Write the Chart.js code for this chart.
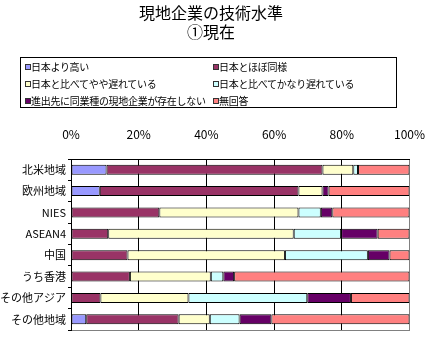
<!DOCTYPE html>
<html>
<head>
<meta charset="utf-8">
<script src="https://cdn.jsdelivr.net/npm/chart.js@4/dist/chart.umd.min.js"></script>
<style>
html,body{margin:0;padding:0;background:#fff;}
#wrap{position:relative;width:442px;height:345px;overflow:hidden;font-family:"Noto Sans CJK JP","Noto Sans",sans-serif;color:#000;}
#title{position:absolute;left:0;width:422px;top:3px;text-align:center;font-size:16px;line-height:19px;}
#legend{position:absolute;left:20px;top:57px;width:375px;height:49px;border:1px solid #000;}
.li{position:absolute;font-size:10px;letter-spacing:-0.3px;line-height:12px;white-space:nowrap;}
.sw{position:absolute;width:4px;height:4px;border:1px solid #333;}
canvas{position:absolute;left:0;top:0;}
</style>
</head>
<body>
<div id="wrap">
<canvas id="c" width="442" height="345"></canvas>
<div id="title">現地企業の技術水準<br>①現在</div>
<div id="legend"></div>
</div>
<script>
const categories = ['北米地域','欧州地域','NIES','ASEAN4','中国','うち香港','その他アジア','その他地域'];
const seriesNames = ['日本より高い','日本とほぼ同様','日本と比べてやや遅れている','日本と比べてかなり遅れている','進出先に同業種の現地企業が存在しない','無回答'];
const higher         = [10.5, 8.5, 0, 0, 0, 0, 0, 4.5];
const same           = [63.8, 58.7, 26.1, 11.0, 16.7, 17.4, 8.7, 27.3];
const slightlyBehind = [9.1, 7.1, 41.1, 54.8, 46.5, 23.9, 26.0, 9.2];
const muchBehind     = [1.4, 0, 6.6, 14.0, 24.5, 3.7, 35.1, 8.8];
const noLocalFirm    = [0, 1.8, 3.4, 10.8, 6.4, 3.2, 12.9, 9.4];
const noAnswer       = [15.2, 23.9, 22.8, 9.4, 5.9, 51.8, 17.3, 40.8];
const xTicks = [0, 20, 40, 60, 80, 100];
const colors = ['#9999FF','#993366','#FFFFCC','#CCFFFF','#660066','#FF8080'];

const seriesData = [higher, same, slightlyBehind, muchBehind, noLocalFirm, noAnswer];
const datasets = seriesData.map((d, i) => ({
  label: seriesNames[i],
  data: d.map(v => v === 0 ? null : v),
  backgroundColor: colors[i],
  borderColor: '#000',
  borderWidth: 1,
  borderSkipped: false,
  barPercentage: 0.47,
  categoryPercentage: 1,
  xAxisID: 'x'
}));

// HTML legend (two columns, row-wise)
const lg = document.getElementById('legend');
const rowY = [3, 20, 37];
const colX = [4, 192];
seriesNames.forEach((n, i) => {
  const r = Math.floor(i / 2), c = i % 2;
  const sw = document.createElement('div');
  sw.className = 'sw';
  sw.style.left = colX[c] + 'px';
  sw.style.top = (rowY[r] + 3) + 'px';
  sw.style.background = colors[i];
  lg.appendChild(sw);
  const t = document.createElement('div');
  t.className = 'li';
  t.style.left = (colX[c] + 6) + 'px';
  t.style.top = rowY[r] + 'px';
  t.textContent = n;
  lg.appendChild(t);
});

const FONT = '"Noto Sans CJK JP","Noto Sans",sans-serif';
new Chart(document.getElementById('c'), {
  type: 'bar',
  data: { labels: categories, datasets },
  options: {
    indexAxis: 'y',
    responsive: false,
    animation: false,
    layout: { padding: { left: 0, right: 20, top: 119, bottom: 15 } },
    plugins: { legend: { display: false }, title: { display: false }, tooltip: { enabled: false } },
    scales: {
      x: {
        position: 'top',
        stacked: true,
        min: 0, max: 100,
        afterBuildTicks: s => { s.ticks = xTicks.map(v => ({ value: v })); },
        afterFit: s => { s.height = 40; },
        ticks: { callback: v => v + '%', font: { family: FONT, size: 12 }, color: '#000', padding: 17, maxRotation: 0 },
        grid: { color: ctx => (ctx.tick && ctx.tick.value === 100) ? '#808080' : '#000', drawTicks: false, lineWidth: 1 },
        border: { color: '#000', width: 1 }
      },
      x2: {
        position: 'bottom',
        min: 0, max: 100,
        afterFit: s => { s.height = 0; },
        ticks: { display: false },
        grid: { drawOnChartArea: false, drawTicks: false },
        border: { color: '#808080', width: 1 }
      },
      y: {
        stacked: true,
        offset: true,
        afterFit: s => { s.width = 71; },
        ticks: { font: { family: FONT, size: 11 }, color: '#000', padding: 2 },
        grid: { offset: true, drawOnChartArea: false, tickLength: 3, color: '#000', tickColor: '#000' },
        border: { color: '#000', width: 1 }
      }
    }
  }
});
</script>
</body>
</html>
